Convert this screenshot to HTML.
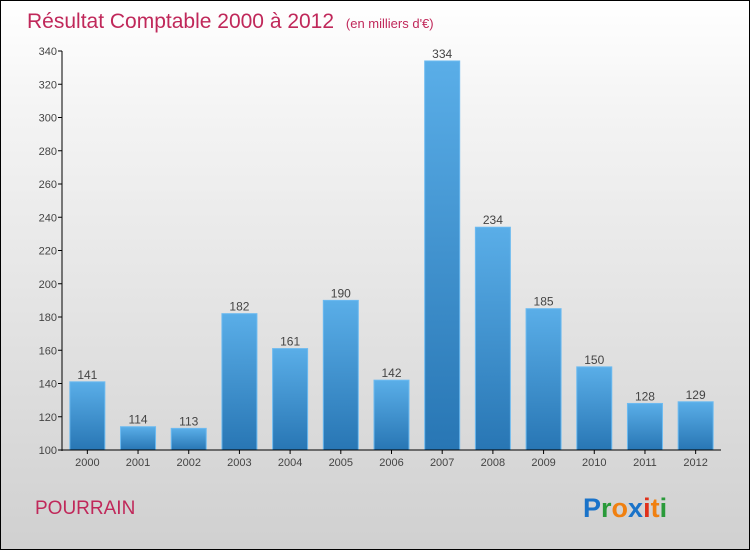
<!DOCTYPE html>
<html><head><meta charset="utf-8"><style>
body{margin:0}
#c{width:748px;height:548px;border:1px solid #000;background:linear-gradient(#ffffff,#f4f4f4 20%,#d0d0d0);position:relative;overflow:hidden;font-family:"Liberation Sans",sans-serif}
</style></head><body>
<div id="c">
<svg id="s" width="748" height="548" xmlns="http://www.w3.org/2000/svg">
<defs><linearGradient id="g" x1="0" y1="0" x2="0" y2="1"><stop offset="0" stop-color="#5aaee8"/><stop offset="1" stop-color="#2876b4"/></linearGradient></defs>
<text x="26" y="27" font-size="21" fill="#c0285a">Résultat Comptable 2000 à 2012 <tspan font-size="13" dx="6">(en milliers d'€)</tspan></text>
<text x="34" y="513" font-size="19" fill="#c0285a">POURRAIN</text>
<text x="582" y="516" font-size="27" font-weight="bold"><tspan fill="#1a73c9">P</tspan><tspan fill="#2a9a3a">r</tspan><tspan fill="#f08010">o</tspan><tspan fill="#1a73c9">x</tspan><tspan fill="#e0301a">i</tspan><tspan fill="#f08010">t</tspan><tspan fill="#2a9a3a">i</tspan></text>
<g id="plot"></g>
</svg></div>
<script>
const years=["2000","2001","2002","2003","2004","2005","2006","2007","2008","2009","2010","2011","2012"];
const values=[141,114,113,182,161,190,142,334,234,185,150,128,129];
const ticks=[100,120,140,160,180,200,220,240,260,280,300,320,340];
const NS="http://www.w3.org/2000/svg",g=document.getElementById('plot');
const x0=61,x1=720,y0=449,y1=50,vmin=100,vmax=340;
const y=v=>y0-(v-vmin)/(vmax-vmin)*(y0-y1);
const band=(x1-x0)/years.length;
function el(t,a,txt){const e=document.createElementNS(NS,t);for(const k in a)e.setAttribute(k,a[k]);if(txt!=null)e.textContent=txt;g.appendChild(e);return e;}
ticks.forEach(t=>{
 const l=el('line',{x1:x0-4,x2:x0,y1:y(t),y2:y(t),stroke:'#000'});
 
 
 const tx=el('text',{x:x0-5,y:y(t)+4,'font-size':11,fill:'#444','text-anchor':'end'},t);
 
 
});
years.forEach((yr,i)=>{
 const cx=x0+band*(i+0.5),v=values[i],bw=35;
 const r=el('rect',{x:cx-bw/2,y:y(v),width:bw,height:y0-y(v),fill:'url(#g)',stroke:'#6cbaf0','stroke-width':1});
 
 
 const vl=el('text',{x:cx,y:y(v)-3,'font-size':12,fill:'#444','text-anchor':'middle'},v);
 
 
 el('line',{x1:cx,x2:cx,y1:y0,y2:y0+4,stroke:'#000'});
 const xl=el('text',{x:cx,y:y0+16,'font-size':11,fill:'#444','text-anchor':'middle'},yr);
 
 
});
const ya=el('line',{x1:x0,x2:x0,y1:y1,y2:y0+1,stroke:'#000'});


const xa=el('line',{x1:x0,x2:x1,y1:y0,y2:y0,stroke:'#000'});


</script>
</body></html>
